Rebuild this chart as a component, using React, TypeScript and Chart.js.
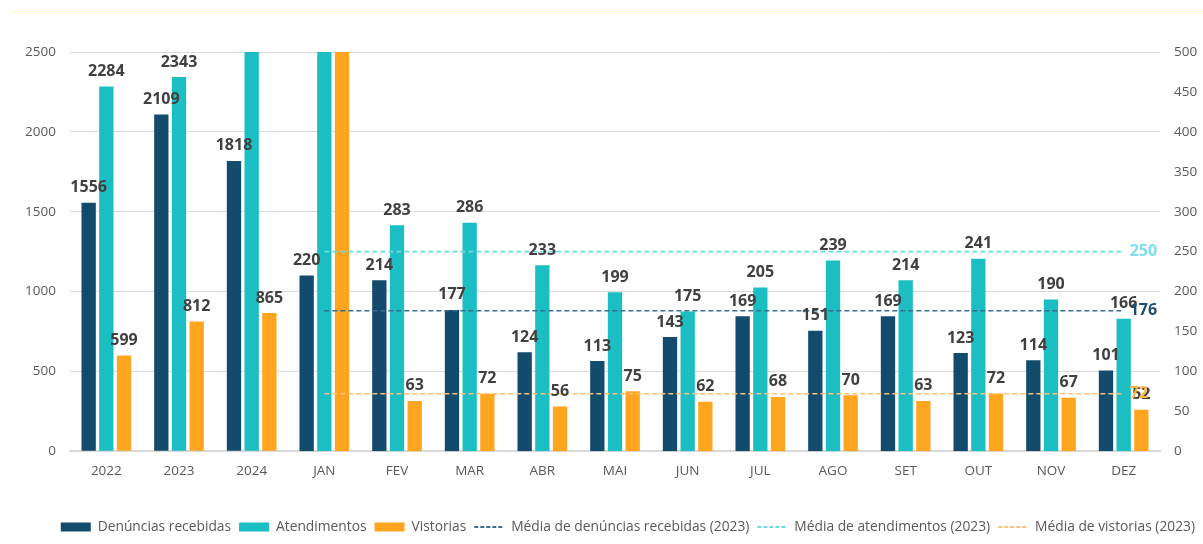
import React, { useEffect, useRef } from "react";
import { Chart, registerables } from "chart.js";

Chart.register(...registerables);

const categories = ["2022", "2023", "2024", "JAN", "FEV", "MAR", "ABR", "MAI", "JUN", "JUL", "AGO", "SET", "OUT", "NOV", "DEZ"];

// annual totals (left axis)
const annualDenuncias = [1556, 2109, 1818];
const annualAtendimentos = [2284, 2343, 2991];
const annualVistorias = [599, 812, 865];

// monthly values (right axis)
const monthlyDenuncias = [220, 214, 177, 124, 113, 143, 169, 151, 169, 123, 114, 101];
const monthlyAtendimentos = [560, 283, 286, 233, 199, 175, 205, 239, 214, 241, 190, 166];
const monthlyVistorias = [540, 63, 72, 56, 75, 62, 68, 70, 63, 72, 67, 52];

// 2023 averages (right axis)
const mediaDenuncias2023 = 176;
const mediaAtendimentos2023 = 250;
const mediaVistorias2023 = 72;

const leftMax = 2500;
const leftStep = 500;
const rightMax = 500;
const rightStep = 50;

const C_DEN = "#124B6C";
const C_ATE = "#1BBEC2";
const C_VIS = "#FFA520";
const C_DEN_LINE = "#3A6E90";
const C_ATE_LINE = "#6CDCE0";
const C_VIS_LINE = "#FFC078";

const nYears = annualDenuncias.length;
const nMonths = monthlyDenuncias.length;
const yearSeries = (arr: number[]) => [...arr, ...new Array(nMonths).fill(null)];
const monthSeries = (arr: number[]) => [...new Array(nYears).fill(null), ...arr];
const meanSeries = (v: number) => [...new Array(nYears).fill(null), ...new Array(nMonths).fill(v)];

const valueLabels = {
  id: "valueLabels",
  afterDatasetsDraw(chart: any) {
    const ctx = chart.ctx;
    ctx.save();
    chart.data.datasets.forEach((ds: any, i: number) => {
      const meta = chart.getDatasetMeta(i);
      if (meta.hidden) return;
      if (meta.type === "bar") {
        const scale = chart.scales[ds.yAxisID];
        ctx.font = "bold 16px 'Open Sans', sans-serif";
        ctx.fillStyle = "#404040";
        ctx.textAlign = "center";
        ctx.textBaseline = "middle";
        meta.data.forEach((el: any, j: number) => {
          const v = ds.data[j];
          if (v == null || v > scale.max) return;
          ctx.fillText(String(v), el.x, el.y - 15);
        });
      } else if (ds.endLabelColor) {
        const last = ds.data.length - 1;
        const el = meta.data[last];
        ctx.font = "bold 16px 'Open Sans', sans-serif";
        ctx.fillStyle = ds.endLabelColor;
        ctx.textAlign = "left";
        ctx.textBaseline = "middle";
        ctx.fillText(String(ds.data[last]), el.x + 6, el.y);
      }
    });
    ctx.restore();
  },
};

const plainTick = (v: any) => String(v);

export default function App() {
  const ref = useRef<HTMLCanvasElement | null>(null);

  useEffect(() => {
    if (!ref.current) return;
    Chart.defaults.font.family = "'Open Sans', sans-serif";
    const barBase = { type: "bar", borderWidth: 0, order: 1 };
    const lineBase = {
      type: "line",
      borderWidth: 1.6,
      borderDash: [5, 3],
      pointRadius: 0,
      fill: false,
      yAxisID: "y1",
      order: 0,
      spanGaps: false,
    };
    const datasets: any[] = [
      { ...barBase, label: "Denúncias recebidas", data: yearSeries(annualDenuncias), backgroundColor: C_DEN, yAxisID: "y" },
      { ...barBase, label: "Atendimentos", data: yearSeries(annualAtendimentos), backgroundColor: C_ATE, yAxisID: "y" },
      { ...barBase, label: "Vistorias", data: yearSeries(annualVistorias), backgroundColor: C_VIS, yAxisID: "y" },
      { ...barBase, label: "Denúncias recebidas (mês)", data: monthSeries(monthlyDenuncias), backgroundColor: C_DEN, yAxisID: "y1" },
      { ...barBase, label: "Atendimentos (mês)", data: monthSeries(monthlyAtendimentos), backgroundColor: C_ATE, yAxisID: "y1" },
      { ...barBase, label: "Vistorias (mês)", data: monthSeries(monthlyVistorias), backgroundColor: C_VIS, yAxisID: "y1" },
      { ...lineBase, label: "Média de denúncias recebidas (2023)", data: meanSeries(mediaDenuncias2023), borderColor: C_DEN_LINE, endLabelColor: "#1F4F70" },
      { ...lineBase, label: "Média de atendimentos (2023)", data: meanSeries(mediaAtendimentos2023), borderColor: C_ATE_LINE, endLabelColor: "#7FDDF2" },
      { ...lineBase, label: "Média de vistorias (2023)", data: meanSeries(mediaVistorias2023), borderColor: C_VIS_LINE, endLabelColor: "#FFB347" },
    ];
    const legendOrder = [0, 1, 2, 6, 7, 8];

    const chart = new Chart(ref.current, {
      type: "bar",
      data: { labels: categories, datasets },
      plugins: [valueLabels],
      options: {
        animation: false,
        responsive: false,
        devicePixelRatio: 1,
        layout: { padding: { top: 52, left: 0, right: 0, bottom: 0 } },
        datasets: {
          bar: { skipNull: true, categoryPercentage: 0.73, barPercentage: 0.81 },
        } as any,
        plugins: {
          tooltip: { enabled: false },
          legend: {
            position: "bottom",
            align: "end",
            labels: {
              usePointStyle: true,
              pointStyleWidth: 30,
              boxHeight: 9,
              padding: 8,
              color: "#595959",
              font: { size: 13.8, family: "'Open Sans', sans-serif" },
              generateLabels: (ch: any) =>
                legendOrder.map((i) => {
                  const ds = ch.data.datasets[i];
                  const isLine = ds.type === "line";
                  return {
                    text: ds.label,
                    fillStyle: isLine ? "rgba(0,0,0,0)" : ds.backgroundColor,
                    strokeStyle: isLine ? ds.borderColor : ds.backgroundColor,
                    lineWidth: isLine ? 2 : 0,
                    lineDash: isLine ? [4, 2] : [],
                    pointStyle: isLine ? "line" : "rect",
                    fontColor: "#595959",
                    hidden: false,
                    datasetIndex: i,
                  };
                }),
            },
          },
        },
        scales: {
          x: {
            grid: { display: false, drawTicks: false },
            border: { display: true, color: "#D9D9D9", width: 2 },
            ticks: { color: "#595959", font: { size: 13.5 }, padding: 12, maxRotation: 0, autoSkip: false },
            afterFit: (s: any) => {
              s.height = 61;
            },
          },
          y: {
            position: "left",
            min: 0,
            max: leftMax,
            grid: { color: "#D9D9D9", drawTicks: false },
            border: { display: false },
            ticks: { stepSize: leftStep, color: "#595959", font: { size: 13.5 }, padding: 14, callback: plainTick },
            afterFit: (s: any) => {
              s.width = 70;
            },
          },
          y1: {
            position: "right",
            min: 0,
            max: rightMax,
            grid: { display: false, drawTicks: false },
            border: { display: false },
            ticks: { stepSize: rightStep, color: "#595959", font: { size: 13.5 }, padding: 14, callback: plainTick },
            afterFit: (s: any) => {
              s.width = 43;
            },
          },
        },
      } as any,
    } as any);
    return () => chart.destroy();
  }, []);

  return (
    <div style={{ position: "absolute", left: 0, top: 0, width: 1203, height: 544, background: "#fff" }}>
      <div style={{ position: "absolute", left: 11, right: 0, top: 11, height: 0, borderTop: "1px solid #F7F4C4" }} />
      <canvas ref={ref} width={1203} height={544} style={{ display: "block" }} />
    </div>
  );
}
